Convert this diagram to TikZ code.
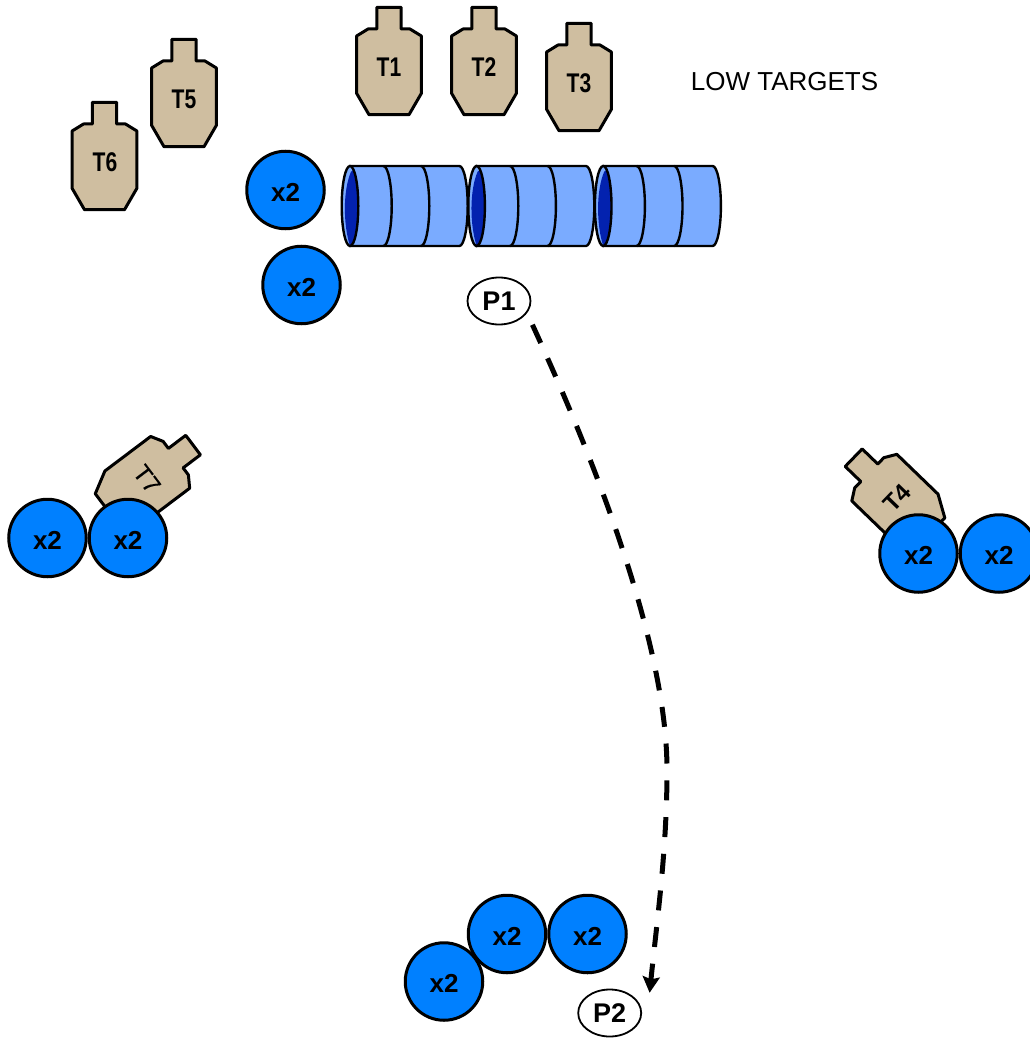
\documentclass[tikz,border=0pt]{standalone}
\usepackage{fontspec}
\setmainfont{Liberation Sans}
\newfontfamily\narrowfont[FakeStretch=0.78]{Liberation Sans}
\newfontfamily\mediumfont[FakeBold=0.5]{Liberation Sans}
\usetikzlibrary{positioning, arrows.meta, shapes.geometric}
\definecolor{targettan}{RGB}{207, 190, 160}
\definecolor{weightblue}{RGB}{0, 128, 255}
\definecolor{drumblue}{RGB}{122, 171, 255}
\definecolor{drumdark}{RGB}{3, 34, 175}

\begin{document}
\begin{tikzpicture}[
    x=1pt, y=-1pt, % One unit is one pixel of the reference, y runs downwards
    >=Stealth, % Arrow tip style
    weight/.style={ % Blue round weights
        circle,
        minimum size=77.5pt,
        inner sep=0pt,
        text height=22pt,
        line width=3pt,
        draw=black,
        fill=weightblue,
        font=\fontsize{26}{30}\selectfont\bfseries
    },
    position/.style={ % Shooting positions
        ellipse,
        minimum width=63pt,
        minimum height=47pt,
        inner sep=0pt,
        line width=1.8pt,
        draw=black,
        fill=white,
        font=\fontsize{27}{30}\selectfont\bfseries
    },
    % Styles for the labels on the targets
    target_label/.style={font=\fontsize{27}{30}\selectfont\narrowfont\bfseries},
    turned_label/.style={font=\fontsize{24}{28}\selectfont#1},
    turned_label/.default=\bfseries,
    note_text/.style={font=\fontsize{26}{30}\selectfont},
    % Arrow style
    move_arrow/.style={
        line width=5pt,
        dash pattern=on 20pt off 16.8pt,
        -{Stealth[length=16pt,width=17pt,inset=2.5pt]}
    },
    % Target silhouette, origin in the middle of the body
    pics/target/.style={
        code={
            \draw[line width=3pt, fill=targettan, line join=round]
                (-12.2,-53.7) -- (12.2,-53.7) -- (12.2,-32) -- (21,-32) -- (32.4,-25)
                -- (32.4,32.3) -- (20,53.7) -- (-20,53.7) -- (-32.4,32.3) -- (-32.4,-25)
                -- (-21,-32) -- (-12.2,-32) -- cycle;
        }
    },
    % Drum lying on its side, origin in the middle of the open end
    pics/drum/.style={
        code={
            \draw[line width=2.4pt, fill=drumblue] (0,-40) -- (109.4,-40)
                arc[start angle=90, end angle=-90, x radius=8.3pt, y radius=40pt]
                -- (0,40) -- cycle;
            \draw[line width=2.4pt] (33.4,-40)
                arc[start angle=90, end angle=-90, x radius=8.3pt, y radius=40pt];
            \draw[line width=2.4pt] (71,-40)
                arc[start angle=90, end angle=-90, x radius=8.3pt, y radius=40pt];
            \fill[drumblue] (0,0) ellipse[x radius=8.3pt, y radius=40pt];
            \fill[drumdark] (1,-34.3) .. controls (-7,-16) and (-7,18) .. (0,40)
                arc[start angle=-90, end angle=65, x radius=8.3pt, y radius=40pt] -- cycle;
            \draw[line width=2.4pt] (0,0) ellipse[x radius=8.3pt, y radius=40pt];
        }
    }
]
\useasboundingbox (0,0) rectangle (1029,1038);

% Targets
\foreach \x/\y in {389/61, 484/61, 579/77, 184/93, 104.5/156} {
    \pic at (\x,\y) {target};
}
\pic[rotate=-53] at (150.2,477.4) {target};
\pic[rotate=46] at (892.3,495) {target};

\node[target_label] (t1) at (389,67) {T1};
\node[target_label] (t2) at (484,67) {T2};
\node[target_label] (t3) at (579,83) {T3};
\node[target_label] (t5) at (184,99) {T5};
\node[target_label] (t6) at (105,162) {T6};
\node[turned_label=\mediumfont, rotate=-53] (t7) at (147,479) {T7};
\node[turned_label, rotate=46] (t4) at (897,498) {T4};

\node[note_text] (low) at (784.5,82) {LOW TARGETS};

% Drums
\foreach \x in {350, 476.6, 603.2} {
    \pic at (\x,206) {drum};
}

% Weights
\node[weight] (w1) at (285.5,190) {x2};
\node[weight] (w2) at (301.5,285) {x2};
\node[weight] (w3) at (47.5,538) {x2};
\node[weight] (w4) [right=0pt of w3] {x2};
\node[weight] (w5) at (918.5,553.5) {x2};
\node[weight] (w6) [right=0pt of w5] {x2};
\node[weight] (w7) at (507,934) {x2};
\node[weight] (w8) [right=0pt of w7] {x2};
\node[weight] (w9) at (444,981.5) {x2};

% Positions
\node[position] (p1) at (499,301) {P1};
\node[position] (p2) at (609.7,1013) {P2};

% Movement from P1 to P2
\coordinate (bend) at (667,770);
\draw[move_arrow] ([xshift=10.5pt,yshift=-6.5pt]p1.south east)
    .. controls (590,450) and (667,640) .. (bend)
    .. controls (667,850) and (657,920) .. ([xshift=17pt,yshift=3pt]p2.north east);

\end{tikzpicture}
\end{document}
